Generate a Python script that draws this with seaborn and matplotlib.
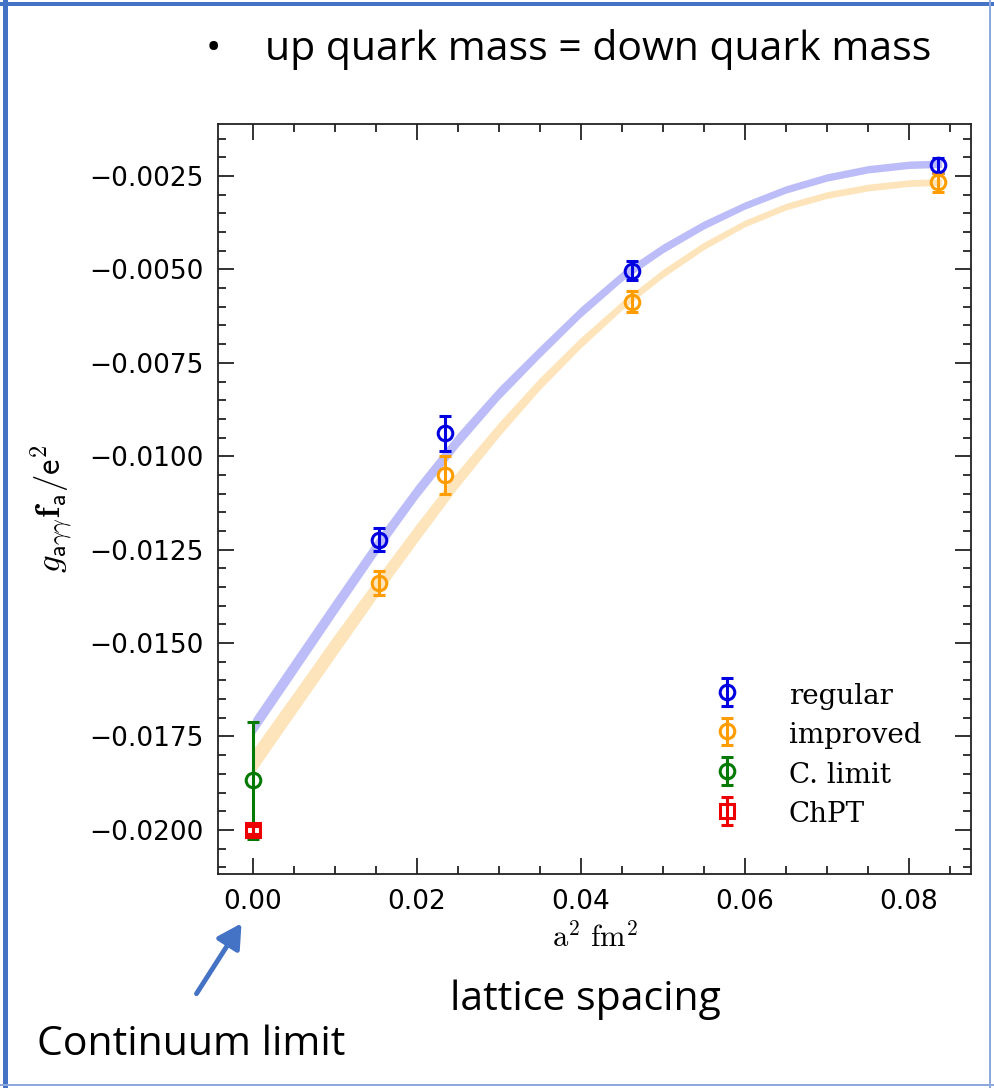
import numpy as np
import matplotlib
matplotlib.use("Agg")
import matplotlib.pyplot as plt
import matplotlib.ticker as mticker
from matplotlib.patches import Rectangle, FancyArrowPatch
import seaborn as sns

# ---------------- data ----------------
a2_regular = [0.0154, 0.0235, 0.0463, 0.0836]
g_regular = [-0.01223, -0.00939, -0.00503, -0.00221]
err_regular = [0.00031, 0.00047, 0.00025, 0.00020]

a2_improved = [0.0154, 0.0235, 0.0463, 0.0836]
g_improved = [-0.01339, -0.01050, -0.00586, -0.00267]
err_improved = [0.00033, 0.00050, 0.00028, 0.00025]

a2_climit = [0.0]
g_climit = [-0.01867]
err_climit = [0.00156]

a2_chpt = [0.0]
g_chpt = [-0.0200]
err_chpt = [0.00010]

# fit bands: centre and half width read at these a^2 values
band_x = [0.0, 0.005, 0.01, 0.015, 0.02, 0.025, 0.03, 0.035, 0.04,
          0.045, 0.05, 0.055, 0.06, 0.065, 0.07, 0.075, 0.08, 0.084]
band_regular_mid = [-0.01726, -0.01565, -0.01404, -0.01245, -0.01095, -0.00957,
                    -0.00832, -0.00721, -0.00614, -0.00519, -0.00444, -0.00381,
                    -0.00329, -0.00286, -0.00254, -0.00232, -0.00220, -0.00217]
band_regular_hw = [0.00024, 0.00024, 0.00023, 0.00022, 0.00020, 0.00019,
                   0.00017, 0.00015, 0.00014, 0.00013, 0.00012, 0.00011,
                   0.00010, 0.00010, 0.00010, 0.00010, 0.00010, 0.00010]
band_improved_mid = [-0.01820, -0.01664, -0.01508, -0.01355, -0.01206, -0.01062,
                     -0.00929, -0.00806, -0.00696, -0.00597, -0.00511, -0.00437,
                     -0.00377, -0.00332, -0.00301, -0.00281, -0.00269, -0.00266]
band_improved_hw = [0.00033, 0.00031, 0.00030, 0.00027, 0.00025, 0.00022,
                    0.00019, 0.00016, 0.00014, 0.00012, 0.00011, 0.00010,
                    0.00009, 0.00009, 0.00009, 0.00009, 0.00009, 0.00009]

xticks = [0.00, 0.02, 0.04, 0.06, 0.08]
yticks = [-0.0025, -0.0050, -0.0075, -0.0100, -0.0125, -0.0150, -0.0175, -0.0200]

# ---------------- style ----------------
sns.set_theme(style="ticks")
plt.rcParams["font.family"] = ["DejaVu Sans"]
plt.rcParams["mathtext.fontset"] = "cm"
plt.rcParams["text.color"] = "black"

W, H = 994, 1088
fig = plt.figure(figsize=(W / 100, H / 100), dpi=100)
fig.patch.set_facecolor("white")

ax_l, ax_r, ax_t, ax_b = 217.5, 971, 124, 874
ax = fig.add_axes([ax_l / W, 1 - ax_b / H, (ax_r - ax_l) / W, (ax_b - ax_t) / H])
ax.set_facecolor("white")

BLUE = "#0000e0"
ORANGE = "#ff9d00"
GREEN = "#047a04"
RED = "#ee0000"

bx = np.array(band_x)
rm, rh = np.array(band_regular_mid), np.array(band_regular_hw)
im, ih = np.array(band_improved_mid), np.array(band_improved_hw)
ax.fill_between(bx, rm - rh, rm + rh, color="#bcbdf8", lw=0, zorder=1)
ax.fill_between(bx, im - ih, im + ih, color="#fde4ba", lw=0, zorder=1)

ekw = dict(fmt="o", mfc="none", ms=10.5, mew=2.2, elinewidth=2.2, capsize=4.0, capthick=2.2, zorder=3)
ax.errorbar(a2_regular, g_regular, yerr=err_regular, color=BLUE, label="regular", **ekw)
ax.errorbar(a2_improved, g_improved, yerr=err_improved, color=ORANGE, label="improved", **ekw)
ax.errorbar(a2_climit, g_climit, yerr=err_climit, color=GREEN, label="C. limit", **ekw)
skw = dict(ekw)
skw["fmt"] = "s"
skw["ms"] = 9.5
ax.errorbar(a2_chpt, g_chpt, yerr=err_chpt, color=RED, label="ChPT", **skw)

ax.set_xlim(-0.00427, 0.08757)
ax.set_ylim(-0.02118, -0.001108)
ax.set_xticks(xticks)
ax.set_yticks(yticks)
ax.xaxis.set_minor_locator(mticker.MultipleLocator(0.005))
ax.yaxis.set_minor_locator(mticker.MultipleLocator(0.0005))
ax.xaxis.set_major_formatter(mticker.FuncFormatter(lambda v, p: f"{v:.2f}"))
ax.yaxis.set_major_formatter(mticker.FuncFormatter(lambda v, p: f"{v:.4f}".replace("-", "\u2212")))
ax.tick_params(which="both", direction="in", top=True, right=True, color="#222222",
               width=1.3, labelcolor="black")
ax.tick_params(which="major", length=11.5)
ax.tick_params(which="minor", length=5.5)
ax.tick_params(axis="y", which="major", labelsize=19, pad=10)
ax.tick_params(axis="x", which="major", labelsize=19, pad=11)
for s in ax.spines.values():
    s.set_color("#222222")
    s.set_linewidth(1.3)

ax.set_xlabel(r"$\mathrm{a}^2\ \mathrm{fm}^2$", fontsize=22, color="black")
ax.xaxis.set_label_coords(0.501, -0.064)
ax.set_ylabel(r"$g_{\mathsf{a}\gamma\gamma}\mathbf{f}_{\mathsf{a}}/\mathsf{e}^2$", fontsize=25, color="black")
ax.yaxis.set_label_coords(-0.19, 0.487)

leg = ax.legend(loc="upper left", bbox_to_anchor=(713 / W, 1 - 680 / H), bbox_transform=fig.transFigure,
                frameon=False, prop={"family": "DejaVu Serif", "size": 20}, handlelength=1.0,
                handleheight=1.2, handletextpad=1.73, labelspacing=0.36, borderpad=0, borderaxespad=0)

# ---------------- slide annotations ----------------
slide_font = ["Open Sans", "DejaVu Sans"]
fs = 29.5
fig.text(213 / W, 1 - 50 / H, "\u2022", fontsize=fs, family=slide_font, ha="center", va="center", color="black")
fig.text(265 / W, 1 - 50 / H, "up quark mass = down quark mass", fontsize=fs,
         family=slide_font, ha="left", va="center", color="black")
fig.text(585 / W, 1 - 1000 / H, "lattice spacing", fontsize=fs, family=slide_font,
         ha="center", va="center", color="black")
fig.text(37 / W, 1 - 1045 / H, "Continuum limit", fontsize=fs, family=slide_font,
         ha="left", va="center", color="black")
fig.add_artist(FancyArrowPatch(
    (195 / W, 1 - 996 / H), (243 / W, 1 - 921 / H), transform=fig.transFigure,
    arrowstyle="-|>,head_length=9,head_width=5", color="#4472c4", lw=3.5, mutation_scale=1.6))

# slide frame
frame = "#4472c4"
fig.add_artist(Rectangle((0.003, 0), 5 / W, 1, transform=fig.transFigure, color=frame, lw=0))
fig.add_artist(Rectangle((0, 1 - 6 / H), 1, 4 / H, transform=fig.transFigure, color=frame, lw=0))
fig.add_artist(Rectangle((0, 2 / H), 1, 2 / H, transform=fig.transFigure, color="#8fa9dc", lw=0))
fig.add_artist(Rectangle((1 - 5 / W, 0), 2 / W, 1, transform=fig.transFigure, color="#8fa9dc", lw=0))

fig.savefig("out.png", dpi=100, facecolor="white")
